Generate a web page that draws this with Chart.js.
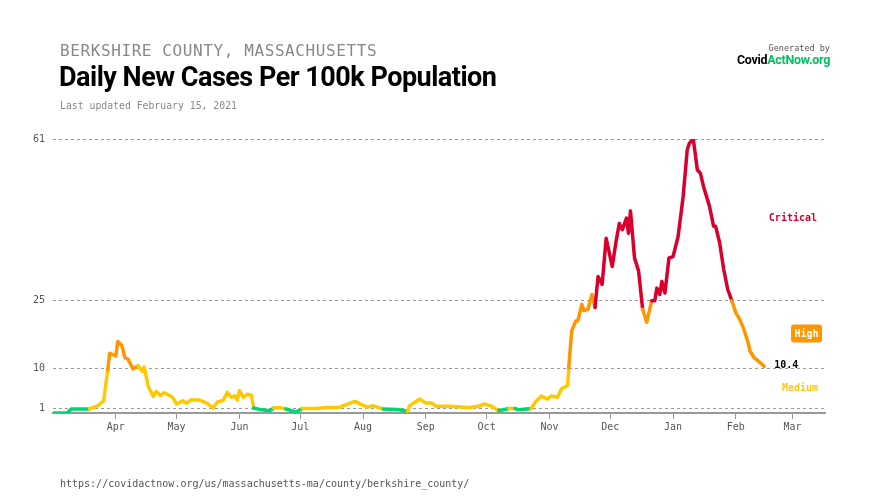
<!DOCTYPE html>
<html>
<head>
<meta charset="utf-8">
<script src="https://cdn.jsdelivr.net/npm/chart.js@4.4.0/dist/chart.umd.min.js"></script>
<style>
  body { margin: 0; background: #fff; }
  #wrap { position: relative; width: 889px; height: 500px; }
  canvas { position: absolute; left: 0; top: 0; }
  .mono { font-family: "DejaVu Sans Mono", monospace; }
  #region { position: absolute; left: 60px; top: 41px; font-size: 16px; color: #888; letter-spacing: 0.6px; }
  #title { position: absolute; left: 59px; top: 61px; font-family: Roboto, sans-serif; font-weight: 700; font-size: 27px; color: #000; letter-spacing: -0.5px; }
  #updated { position: absolute; left: 60px; top: 100px; font-size: 9.8px; color: #888; }
  #url { position: absolute; left: 60px; top: 478px; font-size: 10px; color: #555; }
  #gen { position: absolute; right: 59px; top: 43px; text-align: right; font-family: Roboto, sans-serif; }
  #gen .s { font-size: 8.5px; color: #555; font-family: "DejaVu Sans Mono", monospace; }
  #gen .b { font-size: 12.5px; font-weight: 700; letter-spacing: -0.3px; margin-top: -1px; }
</style>
</head>
<body>
<div id="wrap">
  <canvas id="myChart" width="889" height="500"></canvas>
  <div id="region" class="mono">BERKSHIRE COUNTY, MASSACHUSETTS</div>
  <div id="title">Daily New Cases Per 100k Population</div>
  <div id="updated" class="mono">Last updated February 15, 2021</div>
  <div id="url" class="mono">https://covidactnow.org/us/massachusetts-ma/county/berkshire_county/</div>
  <div id="gen"><div class="s">Generated by</div><div class="b">Covid<span style="color:#00bf5f">ActNow.org</span></div></div>
</div>
<script>
// days since Mar 1, 2020
const days = [0, 7, 9, 18, 22, 25, 27, 28, 31, 32, 34, 35.5, 37, 39.5, 42, 44, 45, 47, 49.5, 51, 53, 55, 59, 61, 64, 66, 68, 72, 76, 79, 81, 84, 86, 88, 90, 91, 92, 94, 96, 98, 99, 103, 107, 109, 112, 115, 120, 123, 130, 135, 141, 145, 149, 155, 158, 163, 170, 175, 176, 181, 184, 187, 189, 195, 200, 205, 210, 213, 216, 220, 225, 228, 230, 236, 238, 241, 244, 246, 249, 251, 254, 254.5, 256, 258, 259, 261, 262, 264, 266, 267.5, 269, 271, 273, 276, 278, 279.5, 281, 283, 284, 285, 287, 289, 291, 293, 295.5, 297, 298, 299.5, 300.5, 302, 304, 306, 308.5, 311, 313, 314, 316, 318, 319.5, 321, 324, 326, 327, 329, 331, 333, 335, 337, 339, 341, 343, 344, 346, 348, 351];
const cases = [0, 0, 0.9, 0.9, 1.6, 2.7, 9.6, 13.3, 12.7, 15.9, 15, 12.3, 12, 9.8, 10.5, 9.3, 10.2, 5.9, 3.7, 4.8, 3.9, 4.5, 3.5, 2.0, 2.7, 2.2, 2.9, 2.9, 2.2, 1.1, 2.4, 2.8, 4.6, 3.5, 3.8, 2.9, 5.0, 3.5, 4.2, 3.9, 1.1, 0.7, 0.5, 1.1, 1.2, 0.9, 0.2, 1.0, 1.0, 1.2, 1.2, 1.9, 2.6, 1.3, 1.6, 0.9, 0.8, 0.4, 1.6, 3.1, 2.2, 2.2, 1.5, 1.5, 1.4, 1.2, 1.5, 2.0, 1.6, 0.5, 1.0, 1.0, 0.7, 1.0, 2.4, 3.8, 3.1, 3.8, 3.5, 5.4, 6.1, 10, 18.3, 20.5, 20.5, 24.2, 22.8, 23.1, 26.4, 23.5, 30.4, 28.6, 38.9, 32.6, 38.5, 42.2, 40.8, 43.4, 40, 45, 34.5, 31.6, 23.1, 20.2, 25, 25, 27.8, 26.4, 29.3, 26.7, 34.5, 34.8, 39.3, 48.2, 58.6, 60, 61, 54.1, 53.4, 50.5, 46, 41.6, 41.6, 37.9, 32, 27.5, 25, 22.3, 20.8, 18.6, 15.7, 13.8, 12.3, 11.6, 10.4];
const monthDays = [31, 61, 92, 122, 153, 184, 214, 245, 275, 306, 337, 365];
const monthLabels = ['Apr', 'May', 'Jun', 'Jul', 'Aug', 'Sep', 'Oct', 'Nov', 'Dec', 'Jan', 'Feb', 'Mar'];
const yTicks = [1, 10, 25, 61];

const levelColor = (v) => v < 1 ? '#00d474' : v < 10 ? '#ffc900' : v < 25 ? '#ff9600' : '#d9002c';

// Zone labels on the right side
const zoneLabels = {
  id: 'zoneLabels',
  afterDraw(chart) {
    const { ctx, scales: { x, y } } = chart;
    ctx.save();
    ctx.font = 'bold 10px "DejaVu Sans Mono", monospace';
    ctx.textAlign = 'right';
    ctx.textBaseline = 'middle';
    ctx.fillStyle = '#d9002c';
    ctx.fillText('Critical', 817, y.getPixelForValue(43.3));
    ctx.fillStyle = '#ffc900';
    ctx.fillText('Medium', 818, y.getPixelForValue(5.5));
    // High badge
    const hy = y.getPixelForValue(17.7);
    ctx.fillStyle = '#ff9600';
    ctx.beginPath();
    ctx.roundRect(791, hy - 9, 31, 18, 3);
    ctx.fill();
    ctx.fillStyle = '#fff';
    ctx.textAlign = 'center';
    ctx.fillText('High', 806.5, hy + 0.5);
    // last value
    const lx = x.getPixelForValue(days[days.length - 1]);
    const ly = y.getPixelForValue(cases[cases.length - 1]);
    ctx.fillStyle = '#000';
    ctx.textAlign = 'left';
    ctx.fillText(cases[cases.length - 1].toFixed(1), lx + 10, ly - 1);
    ctx.restore();
  }
};

const ctx = document.getElementById('myChart').getContext('2d');
new Chart(ctx, {
  type: 'line',
  data: {
    datasets: [{
      data: days.map((d, i) => ({ x: d, y: cases[i] })),
      borderWidth: 3.5,
      pointRadius: 0,
      borderColor: '#ffc900',
      borderJoinStyle: 'round',
      borderCapStyle: 'round',
      segment: {
        borderColor: (c) => levelColor((c.p0.parsed.y + c.p1.parsed.y) / 2),
      },
    }],
  },
  options: {
    responsive: false,
    animation: false,
    layout: { padding: { left: 0, right: 64, top: 139, bottom: 62 } },
    plugins: { legend: { display: false }, tooltip: { enabled: false } },
    scales: {
      x: {
        type: 'linear',
        min: 0,
        max: 381,
        afterBuildTicks: (axis) => { axis.ticks = monthDays.map((v) => ({ value: v })); },
        afterFit: (axis) => { axis.height = 25; },
        ticks: {
          callback: (v) => monthLabels[monthDays.indexOf(v)],
          font: { family: '"DejaVu Sans Mono", monospace', size: 10 },
          color: '#555',
          maxRotation: 0,
          autoSkip: false,
          padding: 2,
        },
        grid: { display: true, drawOnChartArea: false, tickLength: 6, color: '#999' },
        border: { color: '#999', width: 2 },
      },
      y: {
        min: 0,
        max: 61,
        afterBuildTicks: (axis) => { axis.ticks = yTicks.map((v) => ({ value: v })); },
        afterFit: (axis) => { axis.width = 53; },
        ticks: {
          font: { family: '"DejaVu Sans Mono", monospace', size: 10 },
          color: '#555',
          padding: 8,
        },
        grid: { color: '#999', tickLength: 0, drawTicks: false },
        border: { display: false, dash: [3, 3] },
      },
    },
  },
  plugins: [zoneLabels],
});
</script>
</body>
</html>
